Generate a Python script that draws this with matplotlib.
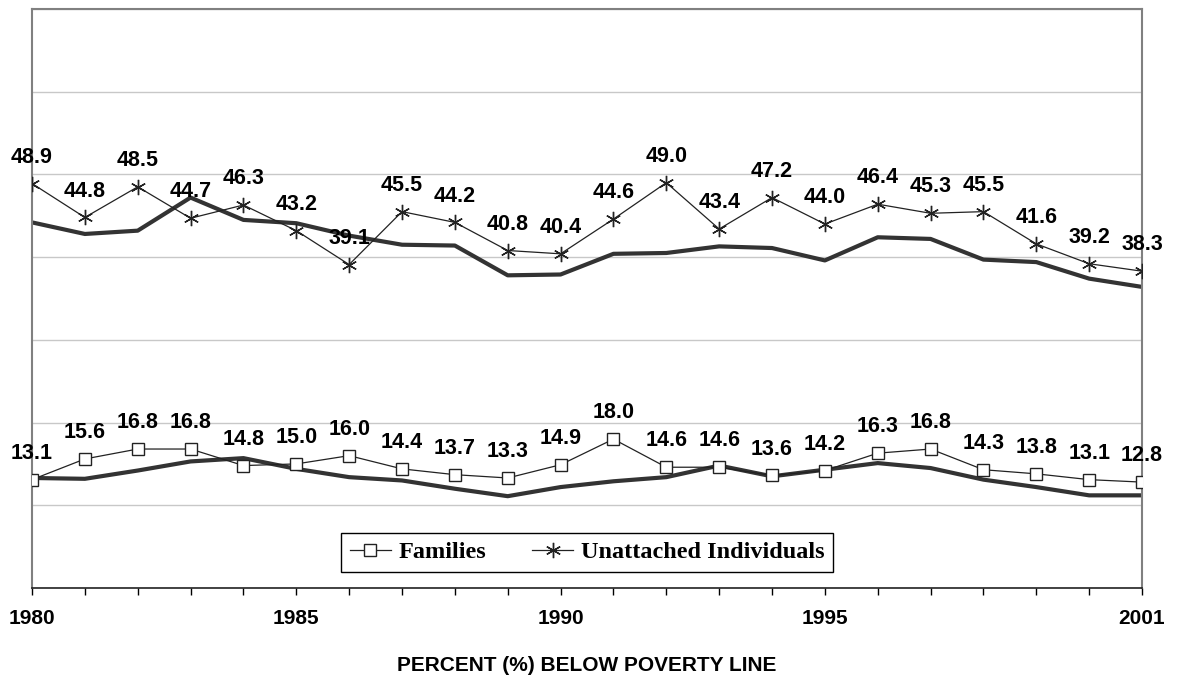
import numpy as np
import matplotlib
matplotlib.use("Agg")
import matplotlib.pyplot as plt

plt.rcParams['font.family'] = ['Liberation Sans', 'DejaVu Sans']

years = list(range(1980, 2002))

families = [13.1, 15.6, 16.8, 16.8, 14.8, 15.0, 16.0, 14.4, 13.7, 13.3, 14.9,
            18.0, 14.6, 14.6, 13.6, 14.2, 16.3, 16.8, 14.3, 13.8, 13.1, 12.8]
unattached = [48.9, 44.8, 48.5, 44.7, 46.3, 43.2, 39.1, 45.5, 44.2, 40.8, 40.4,
              44.6, 49.0, 43.4, 47.2, 44.0, 46.4, 45.3, 45.5, 41.6, 39.2, 38.3]

# unlabelled thick lines
unattached_thick = [44.2, 42.8, 43.2, 47.2, 44.5, 44.1, 42.6, 41.5, 41.4, 37.8, 37.9,
                    40.4, 40.5, 41.3, 41.1, 39.6, 42.4, 42.2, 39.7, 39.4, 37.4, 36.4]
families_thick = [13.3, 13.2, 14.2, 15.3, 15.7, 14.4, 13.4, 13.0, 12.0, 11.1, 12.2,
                  12.9, 13.4, 14.8, 13.5, 14.3, 15.1, 14.5, 13.1, 12.2, 11.2, 11.2]

shown_years = [1980, 1985, 1990, 1995, 2001]

fig = plt.figure(figsize=(11.81, 6.75), dpi=100)
ax = fig.add_axes([0.0271, 0.1289, 0.9399, 0.8578])

ax.plot(years, unattached_thick, color='#333333', lw=3.0, zorder=2)
ax.plot(years, families_thick, color='#333333', lw=3.0, zorder=2)

ax.plot(years, families, color='#222222', lw=0.9, marker='s', markersize=8.5,
        markerfacecolor='white', markeredgecolor='#222222', markeredgewidth=1.0,
        label='Families', zorder=3)
ax.plot(years, unattached, color='#222222', lw=0.9, marker=(6, 2, 0), markersize=11,
        markeredgecolor='#222222', markeredgewidth=1.0,
        label='Unattached Individuals', zorder=3)

for x, v in zip(years, families):
    ax.annotate(f"{v:.1f}", (x, v), xytext=(0, 15), textcoords='offset points',
                ha='center', va='baseline', fontsize=15.5, fontweight='bold', zorder=4)
for x, v in zip(years, unattached):
    ax.annotate(f"{v:.1f}", (x, v), xytext=(0, 15), textcoords='offset points',
                ha='center', va='baseline', fontsize=15.5, fontweight='bold', zorder=4)

ax.set_xlim(1980, 2001)
ax.set_ylim(0, 70)
ax.set_yticks(np.arange(0, 71, 10))
ax.set_yticklabels([])
ax.tick_params(axis='y', length=0)
ax.grid(axis='y', color='#c8c8c8', lw=1.0)
ax.set_axisbelow(True)

ax.set_xticks(years)
ax.set_xticklabels([str(y) if y in shown_years else '' for y in years],
                   fontsize=15, fontweight='bold')
ax.tick_params(axis='x', direction='out', length=5, width=1, pad=10, colors='black')

for side in ['left', 'right', 'top']:
    ax.spines[side].set_color('#808080')
    ax.spines[side].set_linewidth(1.5)
ax.spines['bottom'].set_color('#222222')
ax.spines['bottom'].set_linewidth(1.2)

ax.set_xlabel('PERCENT (%) BELOW POVERTY LINE', fontsize=15, fontweight='bold',
              labelpad=20)

leg = ax.legend(loc='center', bbox_to_anchor=(0.5, 0.062), ncol=2,
                prop={'family': 'Liberation Serif', 'weight': 'bold', 'size': 17.5},
                frameon=True, fancybox=False, edgecolor='black', framealpha=1,
                handlelength=1.7, handletextpad=0.3, columnspacing=1.9,
                borderpad=0.35)
leg.get_frame().set_linewidth(1.0)

fig.savefig('out.png', dpi=100, facecolor='white')
